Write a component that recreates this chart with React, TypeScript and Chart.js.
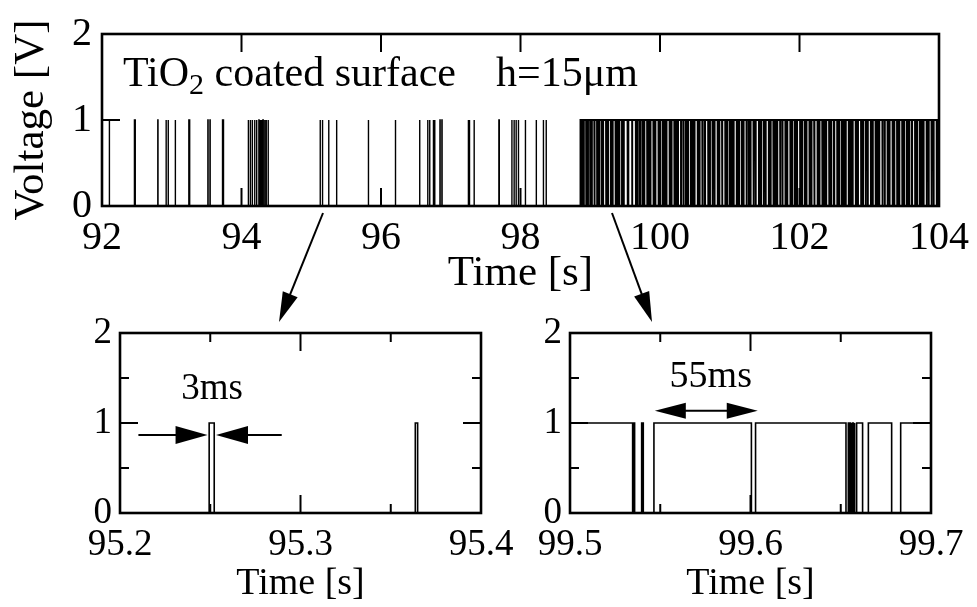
import React, { useEffect, useRef } from "react";
import { Chart, registerables } from "chart.js";

Chart.register(...registerables);

const SERIF = '"Liberation Serif", "Times New Roman", Tinos, "DejaVu Serif", serif';

// ---------------- data ----------------
const overviewRange = [92, 104];
const leftZoomRange = [95.2, 95.4];
const rightZoomRange = [99.5, 99.7];
const voltageRange = [0, 2];

// isolated discharge pulses before the burst: [start s, width ms]
const sparsePulses: [number, number][] = [
  [92.105, 2], [92.465, 12], [92.8, 3], [92.918, 3], [92.948, 3], [93.05, 3],
  [93.245, 12], [93.518, 3], [93.548, 3], [93.728, 14],
  [94.097, 3], [94.126, 3], [94.154, 3], [94.188, 3], [94.216, 3], [94.249, 3],
  [94.268, 3], [94.288, 3], [94.306, 6], [94.33, 6], [94.353, 3], [94.381, 3],
  [95.127, 3], [95.16, 3], [95.2494, 2.8], [95.3636, 1.3],
  [95.815, 8], [96.204, 6], [96.55, 8], [96.669, 3], [96.697, 3], [96.75, 3],
  [96.769, 3], [96.845, 3], [96.873, 3], [97.248, 8], [97.267, 3], [97.334, 3],
  [97.69, 6], [97.875, 3], [97.907, 3], [97.936, 3], [97.969, 3], [98.069, 3],
  [98.225, 3], [98.325, 6], [98.367, 3],
];

// burst: signal stays at 1 V from burstStart, with short drops to 0: [start s, width ms]
const burstStart = 98.86;
const burstEnd = 104;
const burstDips: [number, number][] = [
  [98.868, 3], [98.879, 4], [98.905, 5], [98.941, 3], [98.962, 6], [98.998, 3],
  [99.021, 4], [99.058, 6], [99.097, 3], [99.121, 5], [99.16, 3], [99.178, 7],
  [99.226, 4], [99.251, 5], [99.295, 3], [99.318, 6], [99.362, 4], [99.39, 3],
  [99.412, 6], [99.455, 4], [99.478, 5],
  [99.712, 5], [99.748, 3], [99.772, 6], [99.815, 4], [99.84, 3], [99.861, 5],
  [99.905, 4], [99.93, 7], [99.978, 3],
  [100.002, 5], [100.041, 4], [100.068, 3], [100.09, 6], [100.137, 3], [100.163, 5],
  [100.205, 4], [100.231, 3], [100.252, 7], [100.301, 4], [100.336, 5], [100.372, 3],
  [100.396, 6], [100.441, 4], [100.47, 3], [100.492, 6], [100.54, 3], [100.565, 5],
  [100.606, 4], [100.64, 7], [100.69, 3], [100.712, 5], [100.752, 4], [100.779, 6],
  [100.826, 3], [100.849, 4], [100.889, 6], [100.935, 3], [100.96, 5],
  [101.0, 4], [101.03, 3], [101.052, 7], [101.1, 4], [101.128, 5], [101.17, 3],
  [101.195, 6], [101.24, 4], [101.272, 3], [101.296, 5], [101.34, 4], [101.368, 7],
  [101.418, 3], [101.444, 5], [101.485, 4], [101.512, 6], [101.56, 3], [101.584, 5],
  [101.625, 4], [101.652, 3], [101.675, 7], [101.722, 4], [101.754, 5], [101.797, 3],
  [101.822, 6], [101.868, 3], [101.891, 5], [101.932, 4], [101.96, 6],
  [102.008, 3], [102.034, 5], [102.075, 3], [102.097, 6], [102.142, 4], [102.17, 4],
  [102.21, 7], [102.258, 3], [102.284, 5], [102.326, 4], [102.354, 3], [102.378, 6],
  [102.424, 4], [102.45, 5], [102.492, 7], [102.54, 3], [102.566, 5], [102.607, 4],
  [102.636, 3], [102.66, 6], [102.706, 4], [102.736, 3], [102.76, 5], [102.805, 4],
  [102.832, 7], [102.882, 3], [102.908, 4], [102.948, 4], [102.976, 6],
  [103.022, 3], [103.048, 5], [103.09, 4], [103.118, 3], [103.14, 7], [103.188, 4],
  [103.22, 5], [103.262, 3], [103.288, 6], [103.334, 3], [103.357, 5], [103.398, 4],
  [103.426, 6], [103.472, 3], [103.498, 5], [103.54, 4], [103.568, 4], [103.608, 7],
  [103.656, 3], [103.682, 5], [103.724, 4], [103.752, 3], [103.776, 6], [103.822, 4],
  [103.85, 5], [103.892, 4], [103.92, 6], [103.966, 3], [103.985, 3],
];

// drops seen in the 99.5–99.7 s enlargement: [start s, width ms]
const rightDetailDips: [number, number][] = [
  [99.5347, 0.5], [99.5358, 3.9], [99.5406, 5.9], [99.6005, 2.3],
  [99.6529, 1.3], [99.6546, 0.4], [99.6554, 0.4], [99.6562, 0.4], [99.657, 0.4],
  [99.6578, 1.0], [99.6621, 3.2], [99.6782, 5.0],
];

// annotation values
const pulseWidthLabel = "3ms";
const pulseWidthMarks = [95.2102, 95.2485, 95.2532, 95.2896]; // arrow tails/tips (s)
const intervalLabel = "55ms";
const intervalMarks = [99.547, 99.604]; // double-arrow ends (s)

// ---------------- signal builders ----------------
type P = { x: number; y: number };
function buildSparse(): P[] {
  const pts: P[] = [{ x: overviewRange[0], y: 0 }];
  for (const [t, ms] of sparsePulses) {
    pts.push({ x: t, y: 0 }, { x: t, y: 1 });
    const e = t + ms / 1000;
    pts.push({ x: e, y: 1 }, { x: e, y: 0 });
  }
  pts.push({ x: burstStart, y: 0 });
  return pts;
}
function buildBurst(): P[] {
  const pts: P[] = [{ x: burstStart, y: 0 }, { x: burstStart, y: 1 }];
  const dips = [...burstDips, ...rightDetailDips].sort((a, b) => a[0] - b[0]);
  for (const [t, ms] of dips) {
    pts.push({ x: t, y: 1 }, { x: t, y: 0 });
    const e = t + ms / 1000;
    pts.push({ x: e, y: 0 }, { x: e, y: 1 });
  }
  pts.push({ x: burstEnd, y: 1 });
  return pts;
}

// ---------------- helpers ----------------
function arrowHead(ctx: CanvasRenderingContext2D, tx: number, ty: number, dx: number, dy: number, len: number, half: number) {
  const n = Math.hypot(dx, dy);
  const ux = dx / n, uy = dy / n;
  const bx = tx - ux * len, by = ty - uy * len;
  ctx.beginPath();
  ctx.moveTo(tx, ty);
  ctx.lineTo(bx - uy * half, by + ux * half);
  ctx.lineTo(bx + uy * half, by - ux * half);
  ctx.closePath();
  ctx.fill();
}

const framePlugin = {
  id: "frame",
  afterDatasetsDraw(chart: any) {
    const { ctx, chartArea: a, scales } = chart;
    const x = scales.x, y = scales.y;
    ctx.save();
    ctx.strokeStyle = "#000";
    ctx.lineWidth = 2;
    const major = 18, minor = 9;
    const seg = (x1: number, y1: number, x2: number, y2: number) => {
      ctx.beginPath();
      ctx.moveTo(x1, y1);
      ctx.lineTo(x2, y2);
      ctx.stroke();
    };
    for (const t of x.ticks) {
      const px = x.getPixelForValue(t.value);
      if (px <= a.left + 1 || px >= a.right - 1) continue;
      const len = t.label !== "" ? major : minor;
      seg(px, a.bottom, px, a.bottom - len);
      seg(px, a.top, px, a.top + len);
    }
    for (const t of y.ticks) {
      const py = y.getPixelForValue(t.value);
      if (py <= a.top + 1 || py >= a.bottom - 1) continue;
      const len = t.label !== "" ? major : minor;
      seg(a.left, py, a.left + len, py);
      seg(a.right, py, a.right - len, py);
    }
    ctx.lineWidth = 2.6;
    ctx.strokeRect(a.left, a.top, a.right - a.left, a.bottom - a.top);
    ctx.restore();
  },
};

function fixedLabel(step: number, digits: number) {
  return (value: any) => {
    const v = Number(value);
    const k = Math.round(v / step);
    return Math.abs(v - k * step) < 1e-6 ? (k * step).toFixed(digits) : "";
  };
}

type PanelOpts = {
  range: number[];
  xStep: number;
  xLabelStep: number;
  xDigits: number;
  yStep: number;
  tickSize: number;
  titleSize: number;
  yWidth: number;
  xHeight: number;
  padTop: number;
  padRight: number;
  padBottom: number;
  yTitle?: string;
  lineWidths: number[];
  xPad: number;
  yPad: number;
  extra: any;
};

function makeConfig(o: PanelOpts, series: P[][]): any {
  return {
    type: "line",
    data: {
      datasets: series.map((data, i) => ({
        data,
        borderColor: "#000",
        borderWidth: o.lineWidths[i],
        pointRadius: 0,
        tension: 0,
        fill: false,
      })),
    },
    options: {
      animation: false,
      responsive: false,
      maintainAspectRatio: false,
      events: [],
      layout: { padding: { top: o.padTop, right: o.padRight, bottom: o.padBottom, left: 0 } },
      plugins: { legend: { display: false }, tooltip: { enabled: false }, title: { display: false } },
      scales: {
        x: {
          type: "linear",
          min: o.range[0],
          max: o.range[1],
          grid: { display: false, drawTicks: false },
          border: { display: false },
          ticks: {
            stepSize: o.xStep,
            autoSkip: false,
            maxRotation: 0,
            padding: o.xPad,
            color: "#000",
            font: { family: SERIF, size: o.tickSize },
            callback: fixedLabel(o.xLabelStep, o.xDigits),
          },
          title: {
            display: true,
            text: "Time [s]",
            color: "#000",
            font: { family: SERIF, size: o.titleSize },
            padding: { top: 0, bottom: 0 },
          },
          afterFit: (s: any) => {
            s.height = o.xHeight;
          },
        },
        y: {
          type: "linear",
          min: voltageRange[0],
          max: voltageRange[1],
          grid: { display: false, drawTicks: false },
          border: { display: false },
          ticks: {
            stepSize: o.yStep,
            autoSkip: false,
            padding: o.yPad,
            color: "#000",
            font: { family: SERIF, size: o.tickSize },
            callback: fixedLabel(1, 0),
          },
          title: {
            display: !!o.yTitle,
            text: o.yTitle || "",
            color: "#000",
            font: { family: SERIF, size: o.titleSize },
            padding: { top: 6, bottom: 0 },
          },
          afterFit: (s: any) => {
            s.width = o.yWidth;
          },
        },
      },
    },
    plugins: [framePlugin, o.extra],
  };
}

const overviewText = {
  id: "overviewText",
  afterDraw(chart: any) {
    const { ctx, scales } = chart;
    const x = scales.x, y = scales.y;
    ctx.save();
    ctx.fillStyle = "#000";
    ctx.textBaseline = "alphabetic";
    ctx.textAlign = "left";
    let px = x.getPixelForValue(92.3);
    const base = y.getPixelForValue(1.39);
    ctx.font = `42px ${SERIF}`;
    ctx.fillText("TiO", px, base);
    px += ctx.measureText("TiO").width;
    ctx.font = `30px ${SERIF}`;
    ctx.fillText("2", px, base + 8);
    px += ctx.measureText("2").width;
    ctx.font = `42px ${SERIF}`;
    ctx.fillText(" coated surface", px, base);
    ctx.fillText("h=15\u03bcm", x.getPixelForValue(97.65), base);
    ctx.restore();
  },
};

const leftText = {
  id: "leftText",
  afterDraw(chart: any) {
    const { ctx, scales } = chart;
    const x = scales.x, y = scales.y;
    ctx.save();
    ctx.fillStyle = "#000";
    ctx.strokeStyle = "#000";
    ctx.lineWidth = 2;
    ctx.font = `37px ${SERIF}`;
    ctx.textAlign = "center";
    ctx.textBaseline = "middle";
    ctx.fillText(pulseWidthLabel, x.getPixelForValue(95.251), y.getPixelForValue(1.38));
    const ay = y.getPixelForValue(0.867);
    const [t0, t1, t2, t3] = pulseWidthMarks.map((v) => x.getPixelForValue(v));
    ctx.beginPath();
    ctx.moveTo(t0, ay);
    ctx.lineTo(t1 - 20, ay);
    ctx.moveTo(t3, ay);
    ctx.lineTo(t2 + 20, ay);
    ctx.stroke();
    arrowHead(ctx, t1, ay, 1, 0, 32, 9);
    arrowHead(ctx, t2, ay, -1, 0, 32, 9);
    ctx.restore();
  },
};

const rightText = {
  id: "rightText",
  afterDraw(chart: any) {
    const { ctx, scales } = chart;
    const x = scales.x, y = scales.y;
    ctx.save();
    ctx.fillStyle = "#000";
    ctx.strokeStyle = "#000";
    ctx.lineWidth = 2;
    ctx.font = `38px ${SERIF}`;
    ctx.textAlign = "center";
    ctx.textBaseline = "middle";
    ctx.fillText(intervalLabel, x.getPixelForValue(99.578), y.getPixelForValue(1.51));
    const ay = y.getPixelForValue(1.137);
    const a = x.getPixelForValue(intervalMarks[0]);
    const b = x.getPixelForValue(intervalMarks[1]);
    ctx.beginPath();
    ctx.moveTo(a + 20, ay);
    ctx.lineTo(b - 20, ay);
    ctx.stroke();
    arrowHead(ctx, a, ay, -1, 0, 31, 8);
    arrowHead(ctx, b, ay, 1, 0, 31, 8);
    ctx.restore();
  },
};

let fontsReady: Promise<void> | null = null;
function loadFonts(): Promise<void> {
  if (!fontsReady) {
    const fonts: any = (document as any).fonts;
    const wait = fonts && fonts.load
      ? Promise.all([
          fonts.load('40px "Liberation Serif"'),
          fonts.load('40px "Times New Roman"'),
        ]).then(() => undefined)
      : Promise.resolve();
    fontsReady = Promise.race([
      wait.catch(() => undefined),
      new Promise<void>((r) => setTimeout(r, 1500)),
    ]);
  }
  return fontsReady;
}

function Panel({ left, top, width, height, config }: { left: number; top: number; width: number; height: number; config: any }) {
  const ref = useRef<HTMLCanvasElement>(null);
  useEffect(() => {
    let chart: Chart | null = null;
    let cancelled = false;
    loadFonts().then(() => {
      if (cancelled || !ref.current) return;
      chart = new Chart(ref.current, config);
    });
    return () => {
      cancelled = true;
      if (chart) chart.destroy();
    };
  }, []);
  return (
    <canvas
      ref={ref}
      width={width}
      height={height}
      style={{ position: "absolute", left, top, width, height }}
    />
  );
}

function Arrow({ x1, y1, x2, y2 }: { x1: number; y1: number; x2: number; y2: number }) {
  const dx = x2 - x1, dy = y2 - y1;
  const n = Math.hypot(dx, dy);
  const ux = dx / n, uy = dy / n;
  const len = 30, half = 8;
  const bx = x2 - ux * len, by = y2 - uy * len;
  const pts = `${x2},${y2} ${bx - uy * half},${by + ux * half} ${bx + uy * half},${by - ux * half}`;
  return (
    <g>
      <line x1={x1} y1={y1} x2={bx + ux * 4} y2={by + uy * 4} stroke="#000" strokeWidth={2} />
      <polygon points={pts} fill="#000" />
    </g>
  );
}

export default function App() {
  const series = [buildSparse(), buildBurst()];
  const topCfg = makeConfig(
    {
      range: overviewRange, xStep: 2, xLabelStep: 2, xDigits: 0, yStep: 1,
      tickSize: 40, titleSize: 43, yWidth: 102, xHeight: 94,
      padTop: 27, padRight: 32, padBottom: 40, yTitle: "Voltage [V]",
      lineWidths: [1.4, 1.9], xPad: 8, yPad: 10, extra: overviewText,
    },
    series
  );
  const leftCfg = makeConfig(
    {
      range: leftZoomRange, xStep: 0.05, xLabelStep: 0.1, xDigits: 1, yStep: 0.5,
      tickSize: 37, titleSize: 38, yWidth: 120, xHeight: 94,
      padTop: 33, padRight: 49, padBottom: 0,
      lineWidths: [1.6, 1.6], xPad: 10, yPad: 8, extra: leftText,
    },
    series
  );
  const rightCfg = makeConfig(
    {
      range: rightZoomRange, xStep: 0.05, xLabelStep: 0.1, xDigits: 1, yStep: 0.5,
      tickSize: 37, titleSize: 38, yWidth: 70, xHeight: 94,
      padTop: 33, padRight: 46, padBottom: 0,
      lineWidths: [1.6, 1.6], xPad: 10, yPad: 8, extra: rightText,
    },
    series
  );
  return (
    <div style={{ position: "absolute", left: 0, top: 0, width: 977, height: 607, background: "#fff", overflow: "hidden" }}>
      <span style={{ position: "absolute", left: -1000, fontFamily: SERIF }}>TiO2 Time Voltage 0123456789</span>
      <Panel left={0} top={0} width={977} height={340} config={topCfg} />
      <Panel left={0} top={300} width={530} height={307} config={leftCfg} />
      <Panel left={500} top={300} width={477} height={307} config={rightCfg} />
      <svg width={977} height={607} style={{ position: "absolute", left: 0, top: 0, pointerEvents: "none" }}>
        <Arrow x1={323} y1={213} x2={279} y2={322} />
        <Arrow x1={612} y1={213} x2={652} y2={322} />
      </svg>
    </div>
  );
}
